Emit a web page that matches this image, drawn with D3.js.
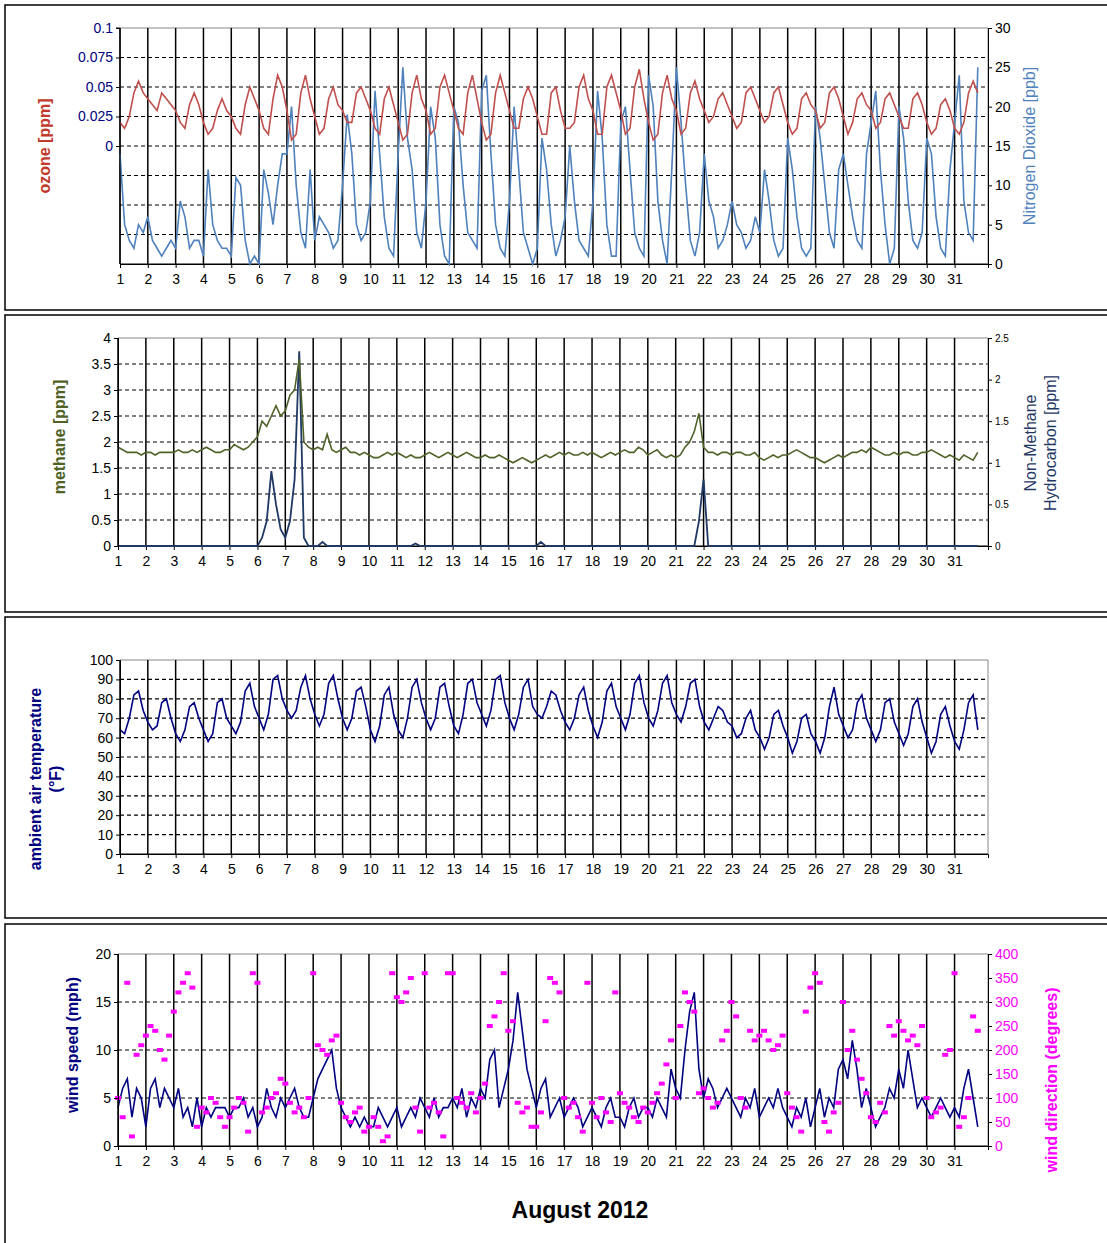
<!DOCTYPE html>
<html><head><meta charset="utf-8">
<script src="https://cdn.jsdelivr.net/npm/d3@7"></script>
<style>body{margin:0;background:#fff}svg{display:block}text{font-family:"Liberation Sans",Arial,sans-serif}</style>
</head><body>
<svg id="c" width="1107" height="1243"></svg>
<script>
// readings every 4 hours (0,4,8,12,16,20) for each day of August 2012
const ozone = [
.020,.015,.025,.045,.055,.045, .040,.035,.030,.045,.040,.035, .030,.020,.015,.035,.045,.035,
.020,.010,.015,.030,.040,.030, .025,.015,.010,.035,.050,.040, .030,.015,.010,.040,.060,.050,
.030,.005,.010,.045,.060,.040, .025,.010,.015,.040,.050,.035, .030,.020,.020,.045,.050,.040,
.030,.015,.010,.040,.050,.035, .020,.005,.010,.045,.060,.040, .030,.010,.015,.050,.060,.045,
.030,.015,.010,.045,.060,.040, .020,.005,.010,.045,.060,.045, .030,.015,.015,.040,.050,.040,
.025,.010,.010,.045,.050,.030, .015,.015,.020,.050,.060,.040, .030,.010,.010,.050,.060,.045,
.030,.010,.015,.050,.065,.040, .020,.005,.010,.045,.060,.040, .030,.010,.015,.045,.055,.040,
.030,.020,.025,.040,.045,.035, .025,.015,.020,.045,.050,.040, .030,.020,.025,.045,.050,.035,
.020,.010,.015,.040,.045,.035, .030,.015,.020,.045,.050,.040, .025,.010,.020,.040,.045,.035,
.030,.015,.020,.040,.045,.035, .025,.015,.015,.040,.045,.035, .020,.010,.015,.035,.040,.030,
.015,.010,.020,.045,.055,.045];
const no2 = [
14,5,3,2,5,4, 6,3,2,1,2,3, 2,8,6,2,3,3, 1,12,5,3,2,2, 1,11,10,3,0,1, 0,12,9,5,10,14,
14,20,10,4,2,12, 3,6,5,4,2,3, 10,19,14,5,3,4, 8,22,14,6,2,1, 14,25,16,12,4,2, 8,20,16,5,1,0,
20,18,10,4,3,2, 22,24,14,5,2,1, 8,20,12,4,2,0, 2,16,12,5,1,3, 6,15,8,3,2,1, 8,22,16,5,1,1,
18,20,12,4,2,1, 24,20,8,3,0,12, 25,18,10,3,1,4, 14,8,6,2,3,5, 8,5,4,2,3,6, 4,12,8,3,1,2,
16,12,6,2,1,2, 20,16,10,4,2,12, 14,10,6,3,2,14, 18,22,12,5,0,2, 20,16,8,3,2,4, 16,14,6,2,1,12,
18,24,8,4,3,25];
const methane = [
1.9,1.85,1.8,1.8,1.8,1.75, 1.8,1.8,1.75,1.8,1.8,1.8, 1.8,1.85,1.8,1.8,1.85,1.8,
1.85,1.9,1.85,1.8,1.8,1.85, 1.85,1.95,1.9,1.85,1.9,2.0, 2.1,2.4,2.3,2.5,2.7,2.5,
2.6,2.9,3.0,3.6,2.0,1.9, 1.85,1.9,1.85,2.15,1.85,1.8, 1.85,1.9,1.8,1.8,1.75,1.8,
1.75,1.7,1.7,1.75,1.8,1.75, 1.8,1.75,1.7,1.75,1.7,1.7, 1.75,1.8,1.75,1.7,1.75,1.8,
1.75,1.7,1.75,1.8,1.75,1.7, 1.7,1.75,1.7,1.7,1.75,1.7, 1.65,1.6,1.65,1.7,1.65,1.6,
1.65,1.7,1.75,1.7,1.75,1.8, 1.75,1.8,1.75,1.75,1.8,1.75, 1.8,1.75,1.7,1.75,1.8,1.75,
1.8,1.85,1.8,1.8,1.9,1.85, 1.75,1.8,1.85,1.75,1.7,1.75, 1.7,1.75,1.9,2.0,2.2,2.55,
1.9,1.8,1.8,1.75,1.8,1.8, 1.75,1.8,1.8,1.75,1.75,1.8, 1.7,1.65,1.7,1.75,1.7,1.75,
1.75,1.8,1.85,1.8,1.75,1.7, 1.7,1.65,1.6,1.65,1.7,1.75, 1.7,1.75,1.8,1.8,1.85,1.8,
1.9,1.85,1.8,1.75,1.75,1.8, 1.75,1.8,1.8,1.75,1.75,1.8, 1.8,1.85,1.8,1.75,1.7,1.75,
1.7,1.65,1.75,1.7,1.65,1.8];
const nmhc = [
0,0,0,0,0,0, 0,0,0,0,0,0, 0,0,0,0,0,0, 0,0,0,0,0,0, 0,0,0,0,0,0, 0,0.1,0.3,0.9,0.5,0.2,
0.1,0.3,0.8,2.34,0.1,0, 0,0,0.05,0,0,0, 0,0,0,0,0,0, 0,0,0,0,0,0, 0,0,0,0,0.03,0, 0,0,0,0,0,0,
0,0,0,0,0,0, 0,0,0,0,0,0, 0,0,0,0,0,0, 0,0.05,0,0,0,0, 0,0,0,0,0,0, 0,0,0,0,0,0,
0,0,0,0,0,0, 0,0,0,0,0,0, 0,0,0,0,0,0.3, 0.8,0,0,0,0,0, 0,0,0,0,0,0, 0,0,0,0,0,0,
0,0,0,0,0,0, 0,0,0,0,0,0, 0,0,0,0,0,0, 0,0,0,0,0,0, 0,0,0,0,0,0, 0,0,0,0,0,0,
0,0,0,0,0,0];
const temperature = [
64,62,70,82,84,74, 68,64,66,78,80,70, 62,58,64,76,78,70, 64,58,62,78,80,70, 66,62,68,84,88,76,
70,64,72,90,92,80, 74,70,74,86,92,80, 72,66,72,88,92,80, 70,64,70,84,86,76, 64,58,66,82,86,72,
64,60,70,86,90,78, 70,64,70,86,88,76, 66,62,72,88,90,78, 72,66,74,90,92,78, 70,64,72,86,90,76,
72,70,76,84,82,74, 68,64,70,82,86,74, 66,60,68,84,88,76, 70,64,72,88,92,78, 70,66,74,88,92,78,
72,68,76,88,90,76, 68,64,70,76,74,68, 66,60,62,70,74,64, 60,54,60,72,74,66, 60,52,58,70,72,62,
58,52,60,76,86,72, 66,60,64,78,82,70, 64,58,64,78,80,68, 62,56,62,76,80,68, 60,52,58,72,76,66,
58,54,64,78,82,64];
const windSpeed = [
4,6,7,3,6,5, 2,6,7,4,6,5, 4,6,3,4,2,5, 2,4,3,4,4,4, 3,4,4,5,3,4, 2,3,6,4,3,5, 4,5,6,4,3,3,
5,7,8,9,10,6, 4,3,2,3,2,3, 2,2,4,3,2,3, 4,2,3,4,3,5, 4,3,5,3,4,4, 5,4,6,3,5,4, 6,5,9,10,4,6,
8,11,16,12,8,6, 4,6,7,3,4,5, 3,4,5,4,2,3, 4,3,2,4,5,3, 3,2,4,5,3,4, 4,3,5,4,3,8, 6,5,10,14,16,8,
5,7,6,4,5,6, 5,4,3,5,4,6, 3,4,5,4,6,4, 3,2,4,3,5,2, 4,6,3,5,4,8, 9,7,11,8,4,6, 4,2,3,4,6,5,
8,6,10,7,4,5, 4,3,4,5,4,3, 4,3,6,8,5,2];
const windDir = [
100,60,340,20,190,210, 230,250,240,200,180,230, 280,320,340,360,330,40, 80,70,100,90,60,40,
60,80,100,90,30,360, 340,70,80,100,110,140, 130,90,70,80,60,100, 360,210,200,190,220,230,
90,60,50,70,80,30, 40,60,40,10,20,360, 310,300,320,350,80,30, 360,80,90,70,20,360,
360,100,90,80,110,70, 100,130,250,270,300,360, 240,260,90,70,80,40, 40,70,260,350,340,320,
100,80,90,60,30,340, 90,60,100,70,50,320, 110,90,80,60,50,80, 70,90,110,130,170,220,
100,250,320,300,280,110, 120,100,80,90,220,240, 300,270,100,80,240,220, 230,240,220,200,210,230,
110,80,60,30,280,330, 360,340,50,30,70,90, 300,200,240,180,140,110, 60,50,90,70,250,230,
260,240,220,230,210,250, 100,60,70,80,190,200, 360,40,60,100,270,240];
const days = d3.range(1, 32);

const svg = d3.select("#c");
const tOf = i => 1 + i / 6;

function panel(o) {
  svg.append("rect").attr("x", 5).attr("y", o.frame[0]).attr("width", 1110)
    .attr("height", o.frame[1] - o.frame[0]).attr("fill", "none").attr("stroke", "#000").attr("stroke-width", 1.5);
  const x = d3.scaleLinear().domain([1, 32.2]).range([o.x0, 988]);
  const g = svg.append("g");
  // horizontal dashed grid
  d3.range(o.gridN + 1).forEach(k => {
    const y = o.top + (o.bot - o.top) * k / o.gridN;
    g.append("line").attr("x1", o.x0).attr("x2", 988).attr("y1", y).attr("y2", y)
      .attr("stroke", k == 0 ? "#888" : "#000").attr("stroke-width", 1.2)
      .attr("stroke-dasharray", k == 0 || k == o.gridN ? null : "4,3");
  });
  days.forEach(d => g.append("line").attr("x1", x(d)).attr("x2", x(d)).attr("y1", o.top).attr("y2", o.bot)
    .attr("stroke", "#000").attr("stroke-width", 1.5));
  g.append("line").attr("x1", 988).attr("x2", 988).attr("y1", o.top).attr("y2", o.bot).attr("stroke", "#888");
  const xa = svg.append("g").attr("transform", `translate(0,${o.bot})`)
    .call(d3.axisBottom(x).tickValues(days).tickSize(4).tickFormat(d3.format("d")));
  xa.select(".domain").attr("stroke", "#000");
  xa.selectAll("text").attr("font-size", 14).attr("fill", "#000").attr("dy", "0.9em");
  return x;
}
function yAxis(scale, ticks, xpos, left, fmt, fs) {
  const a = svg.append("g").attr("transform", `translate(${xpos},0)`)
    .call((left ? d3.axisLeft(scale) : d3.axisRight(scale)).tickValues(ticks).tickSize(4).tickFormat(fmt || (d => d)));
  a.select(".domain").attr("stroke", "#000");
  a.selectAll("text").attr("font-size", fs || 14).attr("fill", "#000");
  return a;
}
function label(txt, x, y, color, bold, fs) {
  const t = svg.append("text").attr("transform", `translate(${x},${y}) rotate(-90)`)
    .attr("text-anchor", "middle").attr("fill", color).attr("font-size", fs || 16)
    .attr("font-weight", bold ? "bold" : "normal");
  [].concat(txt).forEach((s, i, arr) => t.append("tspan").attr("x", 0).attr("dy", i == 0 ? (-(arr.length - 1) * 0.6) + "em" : "1.2em").text(s));
}
function line(x, y, data, color, w) {
  svg.append("path").datum(data).attr("fill", "none").attr("stroke", color).attr("stroke-width", w || 1.6)
    .attr("d", d3.line().x((d, i) => x(tOf(i))).y(d => y(d)));
}

// Panel 1: ozone & NO2
{
  const o = { frame: [5, 310], top: 28, bot: 264, x0: 120, gridN: 8 };
  const x = panel(o);
  const yO = d3.scaleLinear().domain([-0.1, 0.1]).range([o.bot, o.top]);
  const yN = d3.scaleLinear().domain([0, 30]).range([o.bot, o.top]);
  line(x, yN, no2, "#4f81bd", 1.6);
  line(x, yO, ozone, "#c0504d", 1.6);
  const a = yAxis(yO, [0, 0.025, 0.05, 0.075, 0.1], o.x0, true);
  a.selectAll("text").attr("fill", "#000080");
  a.select(".domain").attr("d", `M-4,${o.top}H0V${o.bot}`);
  yAxis(yN, d3.range(0, 31, 5), 988, false);
  label("ozone [ppm]", 50, 146, "#c0392b", true);
  label("Nitrogen Dioxide [ppb]", 1035, 146, "#4f81bd", false);
}
// Panel 2: methane & NMHC
{
  const o = { frame: [315, 612], top: 338, bot: 546, x0: 118, gridN: 8 };
  const x = panel(o);
  const yM = d3.scaleLinear().domain([0, 4]).range([o.bot, o.top]);
  const yH = d3.scaleLinear().domain([0, 2.5]).range([o.bot, o.top]);
  line(x, yH, nmhc, "#1f3864", 1.8);
  line(x, yM, methane, "#4f6228", 1.6);
  yAxis(yM, d3.range(0, 4.01, 0.5), o.x0, true);
  yAxis(yH, [0, 0.5, 1, 1.5, 2, 2.5], 988, false, null, 10);
  label("methane [ppm]", 65, 437, "#4f6228", true);
  label(["Non-Methane", "Hydrocarbon [ppm]"], 1046, 443, "#1f3864", false);
}
// Panel 3: temperature
{
  const o = { frame: [617, 918], top: 660, bot: 854, x0: 120, gridN: 10 };
  const x = panel(o);
  const yT = d3.scaleLinear().domain([0, 100]).range([o.bot, o.top]);
  line(x, yT, temperature, "#000080", 1.6);
  yAxis(yT, d3.range(0, 101, 10), o.x0, true);
  label(["ambient air temperature", "(°F)"], 51, 779, "#000080", true);
}
// Panel 4: wind
{
  const o = { frame: [924, 1250], top: 954, bot: 1146, x0: 118, gridN: 4 };
  const x = panel(o);
  const yS = d3.scaleLinear().domain([0, 20]).range([o.bot, o.top]);
  const yD = d3.scaleLinear().domain([0, 400]).range([o.bot, o.top]);
  line(x, yS, windSpeed, "#000080", 1.6);
  svg.append("g").selectAll("rect").data(windDir).join("rect")
    .attr("x", (d, i) => x(tOf(i)) - 3).attr("y", d => yD(d) - 2).attr("width", 6).attr("height", 4).attr("fill", "#ff00ff");
  yAxis(yS, d3.range(0, 21, 5), o.x0, true);
  const r = yAxis(yD, d3.range(0, 401, 50), 988, false);
  r.selectAll("text").attr("fill", "#ff00ff");
  label("wind speed (mph)", 78, 1045, "#000080", true);
  label("wind direction (degrees)", 1057, 1080, "#ff00ff", true);
  svg.append("text").attr("x", 580).attr("y", 1218).attr("text-anchor", "middle")
    .attr("font-size", 23).attr("font-weight", "bold").text("August 2012");
}
</script>
</body></html>
